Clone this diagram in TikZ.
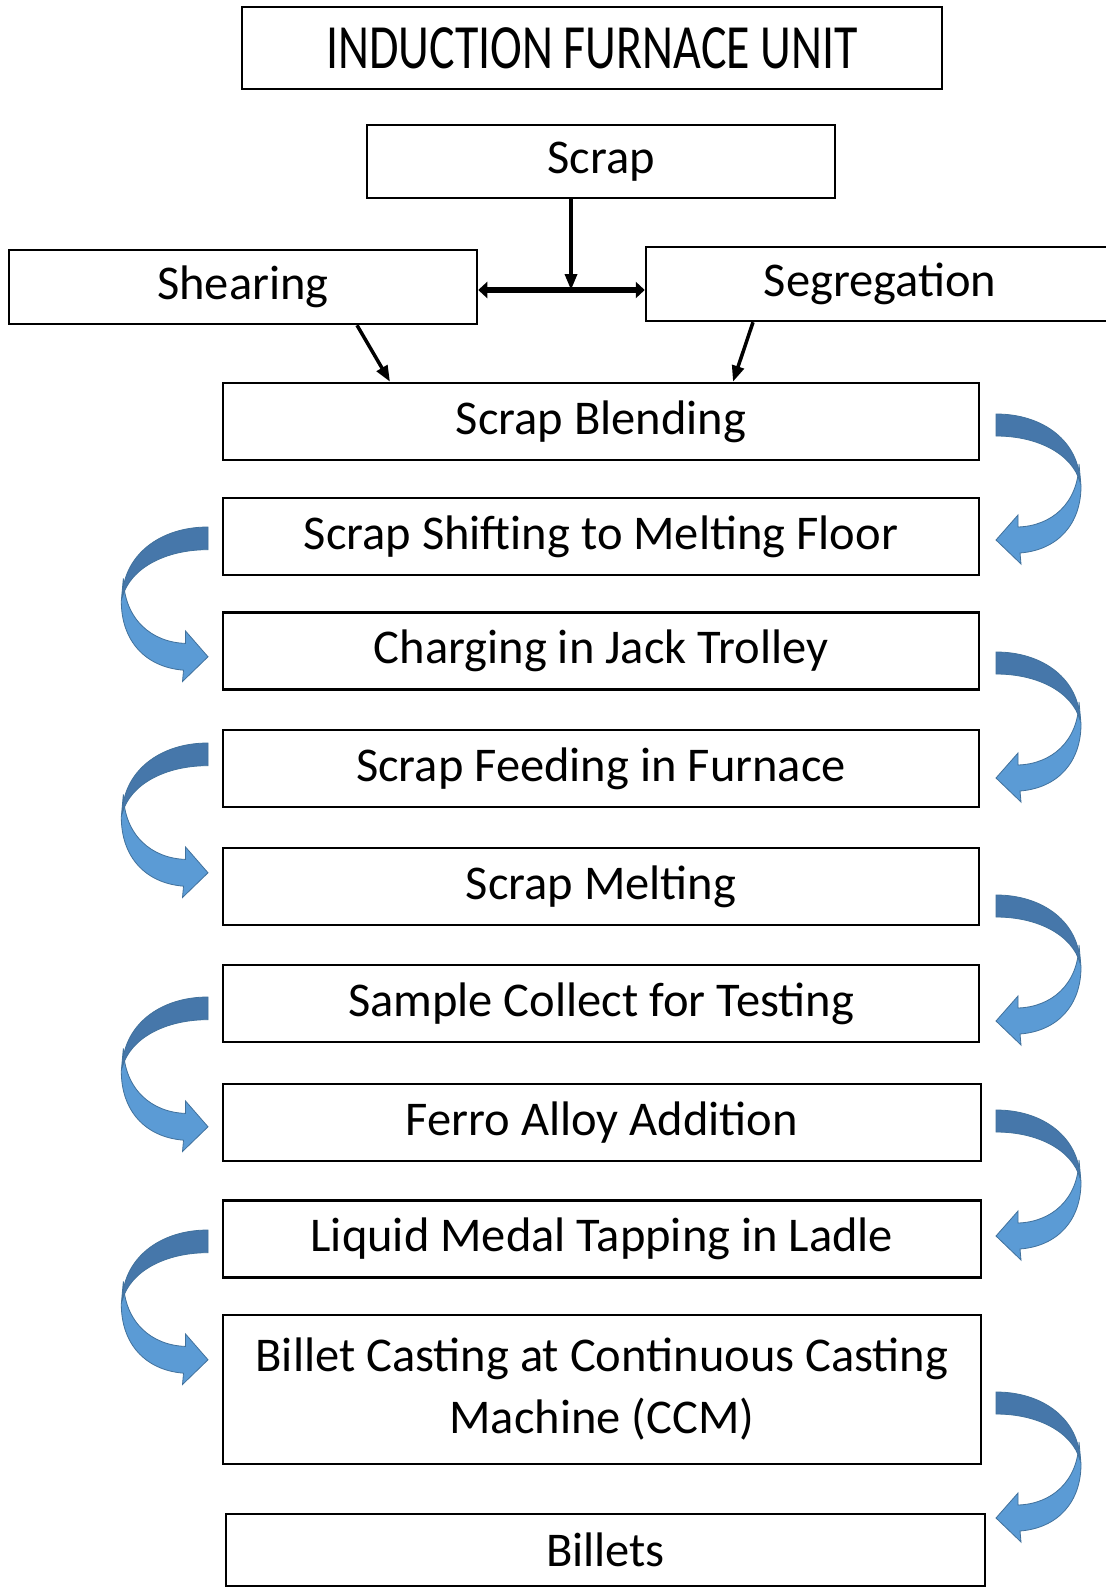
\documentclass[tikz,border=0pt]{standalone}
\usepackage{fontspec}
\setmainfont{Carlito}
\newfontfamily\titlefont[FakeStretch=0.76]{Carlito}
\usetikzlibrary{arrows.meta}
\definecolor{IFBlueDark}{HTML}{4677AA}
\definecolor{IFBlueLight}{HTML}{5B9BD5}
\definecolor{IFBlueLine}{HTML}{41719C}

\tikzset{
  stepbox/.style={draw,line width=2.5pt,minimum width=756pt,minimum height=77pt,
    inner sep=0pt,align=center,font=\fontsize{48.5pt}{62pt}\selectfont},
  pipe/.style={line width=3.5pt,-{Triangle[length=16pt,width=12pt]}},
  fatpipe/.style={line width=6.5pt,{Triangle[length=9pt,width=16pt]}-{Triangle[length=9pt,width=16pt]}},
  bendR/.pic={
    % front half of the ribbon
    \filldraw[fill=IFBlueLight,draw=IFBlueLine,line width=0.8pt]
      (83,50) .. controls (82,90) and (55,112) .. (22,113) -- (22,101) -- (0,126)
      -- (25,150) -- (24,139) .. controls (62,136) and (85,110) .. (85,72) -- cycle;
    % back half of the ribbon
    \filldraw[fill=IFBlueDark,draw=IFBlueLine,line width=0.8pt]
      (0,0) .. controls (48,0) and (83,28) .. (84,68)
      .. controls (76,40) and (42,22) .. (0,22) -- cycle;
  }
}

\begin{document}
\begin{tikzpicture}[x=1pt,y=-1pt]
\useasboundingbox (0,0) rectangle (1105,1589);
\fill[white] (0,0) rectangle (1105,1589);

\node[stepbox,minimum width=700pt,minimum height=82pt,font=\titlefont\fontsize{63pt}{70pt}\selectfont] (unit) at (592,48) {INDUCTION FURNACE UNIT};
\node[stepbox,minimum width=468pt,minimum height=73pt] (scrap) at (601,161.5) {Scrap};
\node[stepbox,minimum width=468pt,minimum height=74pt] (shear) at (243,287) {Shearing};
\node[stepbox,minimum width=468pt,minimum height=74pt] (segr) at (880,284) {Segregation};

\node[stepbox] (blend) at (601,421.5) {Scrap Blending};
\node[stepbox] (shift) at (601,536.5) {Scrap Shifting to Melting Floor};
\node[stepbox] (charge) at (601,651) {Charging in Jack Trolley};
\node[stepbox] (feed) at (601,768.5) {Scrap Feeding in Furnace};
\node[stepbox] (melt) at (601,886.5) {Scrap Melting};
\node[stepbox] (sample) at (601,1003.5) {Sample Collect for Testing};
\node[stepbox,minimum width=758pt] (ferro) at (602,1122.5) {Ferro Alloy Addition};
\node[stepbox,minimum width=758pt] (liquid) at (602,1239) {Liquid Medal Tapping in Ladle};
\node[stepbox,minimum width=758pt,minimum height=149pt] (ccm) at (602,1389.5) {Billet Casting at Continuous Casting\\Machine (CCM)};
\node[stepbox,minimum width=759pt,minimum height=72pt] (billets) at (605.5,1550) {Billets};

% scrap split into shearing and segregation
\coordinate (fork) at (571,290);
\draw[pipe] (scrap.south -| fork) -- (fork);
\draw[fatpipe] (shear.east |- fork) -- (segr.west |- fork);
\draw[pipe] ([xshift=114pt]shear.south) -- ([xshift=-211pt]blend.north);
\draw[pipe] ([xshift=-127pt]segr.south) -- ([xshift=132pt]blend.north);

% curved arrows down the right side
\pic at (996,414) {bendR};
\pic at (996,652) {bendR};
\pic at (996,895) {bendR};
\pic at (996,1110) {bendR};
\pic at (996,1392) {bendR};

% curved arrows down the left side
\pic[xscale=-1.02,yscale=1.03] at (208,527) {bendR};
\pic[xscale=-1.02,yscale=1.03] at (208,743) {bendR};
\pic[xscale=-1.02,yscale=1.03] at (208,997) {bendR};
\pic[xscale=-1.02,yscale=1.03] at (208,1230) {bendR};
\end{tikzpicture}
\end{document}
